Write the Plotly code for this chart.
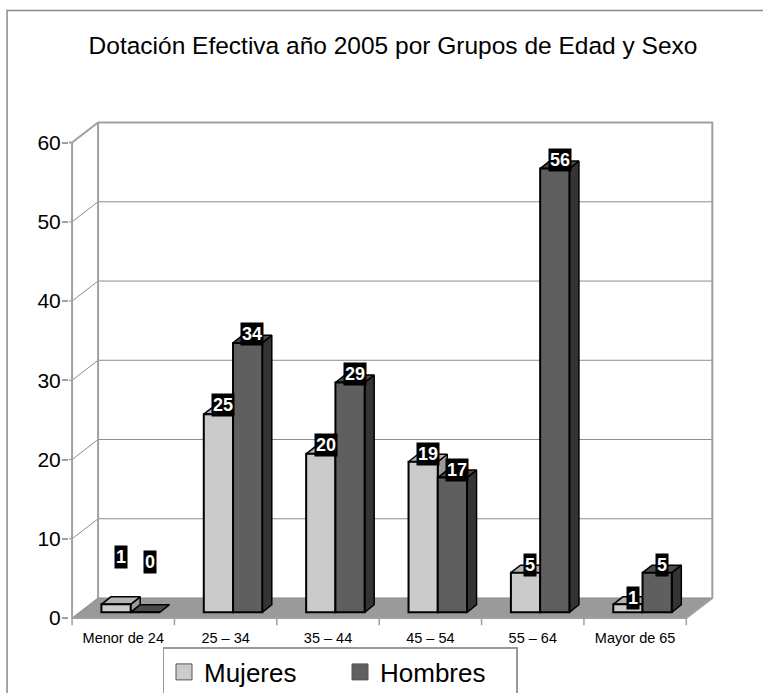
import plotly.graph_objects as go

# ---------------- data ----------------
categories = ["Menor de 24", "25 – 34", "35 – 44", "45 – 54", "55 – 64", "Mayor de 65"]
mujeres = [1, 25, 20, 19, 5, 1]
hombres = [0, 34, 29, 17, 56, 5]
y_tick_values = [0, 10, 20, 30, 40, 50, 60]
title_text = "Dotación Efectiva año 2005 por Grupos de Edad y Sexo"

# ---------------- style / geometry ----------------
FONT = "Liberation Sans, Arial, sans-serif"
FIG_W, FIG_H = 763, 693
PX_X, PX_Y = 102.33, 7.917          # px per category / px per value unit
ORIGIN_PX = (72, 618)               # pixel position of (0, 0)
X_RANGE = [-0.03, 6.29]
Y_RANGE = [-1.01, 62.85]
W = 0.2857                          # bar width (category units)
FDX, FDY = 0.0723, 0.72             # offset of the bar front plane
BDX, BDY = 0.093, 0.95              # bar depth
WALL_DX, WALL_DY = 0.254, 2.525     # back-wall offset
LABEL_YSHIFT_M = [44, 5, 5, 4, 4, 3]
LABEL_YSHIFT_H = [47, 5, 5, 4, 5, 4]

C_M_FRONT, C_M_TOP, C_M_SIDE = "#cbcbcb", "#b4b4b4", "#9a9a9a"
C_H_FRONT, C_H_TOP, C_H_SIDE = "#5f5f5f", "#4a4a4a", "#343434"
C_FLOOR = "#9a9a9a"
C_AXIS = "#a0a0a0"
C_GRID = "#8c8c8c"

ml = ORIGIN_PX[0] + X_RANGE[0] * PX_X
mr = FIG_W - (ORIGIN_PX[0] + X_RANGE[1] * PX_X)
mt = ORIGIN_PX[1] - Y_RANGE[1] * PX_Y
mb = FIG_H - (ORIGIN_PX[1] - Y_RANGE[0] * PX_Y)
PW = FIG_W - ml - mr
PH = FIG_H - mt - mb


def px_to_paper_x(px):
    return (px - ml) / PW


def px_to_paper_y(py):
    return (FIG_H - mb - py) / PH


n = len(categories)
fig = go.Figure()

# floor
fig.add_trace(go.Scatter(
    x=[0, n, n + WALL_DX, WALL_DX, 0], y=[0, 0, WALL_DY, WALL_DY, 0],
    mode="lines", fill="toself", fillcolor=C_FLOOR,
    line=dict(color="#8a8a8a", width=1), hoverinfo="skip", showlegend=False))

# gridlines (left wall diagonal + back wall horizontal)
gx, gy = [], []
for v in y_tick_values[1:-1]:
    gx += [X_RANGE[0], 0, WALL_DX, n + WALL_DX, None]
    gy += [v, v, v + WALL_DY, v + WALL_DY, None]
fig.add_trace(go.Scatter(x=gx, y=gy, mode="lines",
                         line=dict(color=C_GRID, width=1),
                         hoverinfo="skip", showlegend=False))

# axes / wall edges
top = y_tick_values[-1]
ax_x = [X_RANGE[0], 0, WALL_DX, n + WALL_DX, n + WALL_DX, n, None,
        0, 0, None, WALL_DX, WALL_DX, None, 0, n]
ax_y = [top, top, top + WALL_DY, top + WALL_DY, WALL_DY, 0, None,
        top, 0, None, WALL_DY, top + WALL_DY, None, 0, 0]
fig.add_trace(go.Scatter(x=ax_x, y=ax_y, mode="lines",
                         line=dict(color=C_AXIS, width=2),
                         hoverinfo="skip", showlegend=False))

# category tick marks below the front edge
tx, ty = [], []
for k in range(n + 1):
    tx += [k, k, None]
    ty += [0, Y_RANGE[0] * 0.9, None]
fig.add_trace(go.Scatter(x=tx, y=ty, mode="lines",
                         line=dict(color=C_AXIS, width=1.5),
                         hoverinfo="skip", showlegend=False))


def faces(values, left_off):
    sx, sy, tx_, ty_ = [], [], [], []
    for i, v in enumerate(values):
        xl = i + 0.5 + left_off + FDX
        xr = xl + W
        yb = FDY
        yt = v + FDY
        if v > 0:
            sx += [xr, xr + BDX, xr + BDX, xr, xr, None]
            sy += [yb, yb + BDY, yt + BDY, yt, yb, None]
        tx_ += [xl, xr, xr + BDX, xl + BDX, xl, None]
        ty_ += [yt, yt, yt + BDY, yt + BDY, yt, None]
    return sx, sy, tx_, ty_


series = [
    ("Mujeres", mujeres, -W, C_M_FRONT, C_M_TOP, C_M_SIDE, 1),
    ("Hombres", hombres, 0.0, C_H_FRONT, C_H_TOP, C_H_SIDE, 3),
]
for name, vals, off, cf, ct, cs, z in series:
    sx, sy, tx_, ty_ = faces(vals, off)
    fig.add_trace(go.Scatter(x=sx, y=sy, mode="lines", fill="toself",
                             fillcolor=cs, line=dict(color="black", width=1.5),
                             hoverinfo="skip", showlegend=False, zorder=z))
    fig.add_trace(go.Scatter(x=tx_, y=ty_, mode="lines", fill="toself",
                             fillcolor=ct, line=dict(color="black", width=1.5),
                             hoverinfo="skip", showlegend=False, zorder=z))
    fig.add_trace(go.Bar(
        x=[i + 0.5 + FDX for i in range(n)], y=vals, base=FDY,
        width=W, offset=off, name=name,
        marker=dict(color=cf, line=dict(color="black", width=2)),
        showlegend=False, zorder=z + 1))
    # legend entry
    fig.add_trace(go.Scatter(x=[None], y=[None], mode="markers", name=name,
                             marker=dict(symbol="square", size=16, color=cf,
                                         line=dict(color="#555555", width=1))))

# value labels
for vals, off, shifts in [(mujeres, -W, LABEL_YSHIFT_M), (hombres, 0.0, LABEL_YSHIFT_H)]:
    for i, v in enumerate(vals):
        fig.add_annotation(
            x=i + 0.5 + off + W / 2 + FDX + BDX / 2, y=v + FDY + BDY / 2,
            text=f"<b>{v}</b>", showarrow=False, yshift=shifts[i],
            font=dict(family=FONT, size=18, color="white"),
            bgcolor="black", borderpad=1)

# outer frame
fig.add_shape(type="rect", xref="paper", yref="paper",
              x0=px_to_paper_x(7), x1=px_to_paper_x(FIG_W + 20),
              y0=px_to_paper_y(FIG_H + 20), y1=px_to_paper_y(11),
              line=dict(color="#8a8a8a", width=1.5), layer="below")

fig.update_layout(
    width=FIG_W, height=FIG_H,
    margin=dict(l=ml, r=mr, t=mt, b=mb, pad=0, autoexpand=False),
    paper_bgcolor="white", plot_bgcolor="rgba(0,0,0,0)",
    barmode="overlay",
    font=dict(family=FONT, color="black"),
    title=dict(text=title_text, x=393 / FIG_W, xref="container", xanchor="center",
               y=1 - 45 / FIG_H, yref="container", yanchor="middle",
               font=dict(family=FONT, size=24.5, color="black")),
    xaxis=dict(range=X_RANGE, tickvals=[i + 0.5 for i in range(n)], ticktext=categories,
               ticks="", showgrid=False, zeroline=False, showline=False,
               ticklabelstandoff=1, automargin=False,
               tickfont=dict(family=FONT, size=14.5, color="black")),
    yaxis=dict(range=Y_RANGE, tickvals=y_tick_values, ticks="outside", ticklen=6,
               tickcolor=C_AXIS, tickwidth=1.5, showgrid=False, zeroline=False,
               showline=False, ticklabelstandoff=-3, automargin=False,
               tickfont=dict(family=FONT, size=21, color="black")),
    legend=dict(orientation="h", xref="container", x=340 / FIG_W, xanchor="center",
                yref="container", y=1 - 647 / FIG_H, yanchor="top",
                entrywidth=131, entrywidthmode="pixels",
                bordercolor="#999999", borderwidth=1.5, bgcolor="white",
                font=dict(family=FONT, size=26, color="black")),
    showlegend=True,
)

fig.write_html("out.html", config={"displayModeBar": False},
               post_script="document.body.style.margin='0px';")
